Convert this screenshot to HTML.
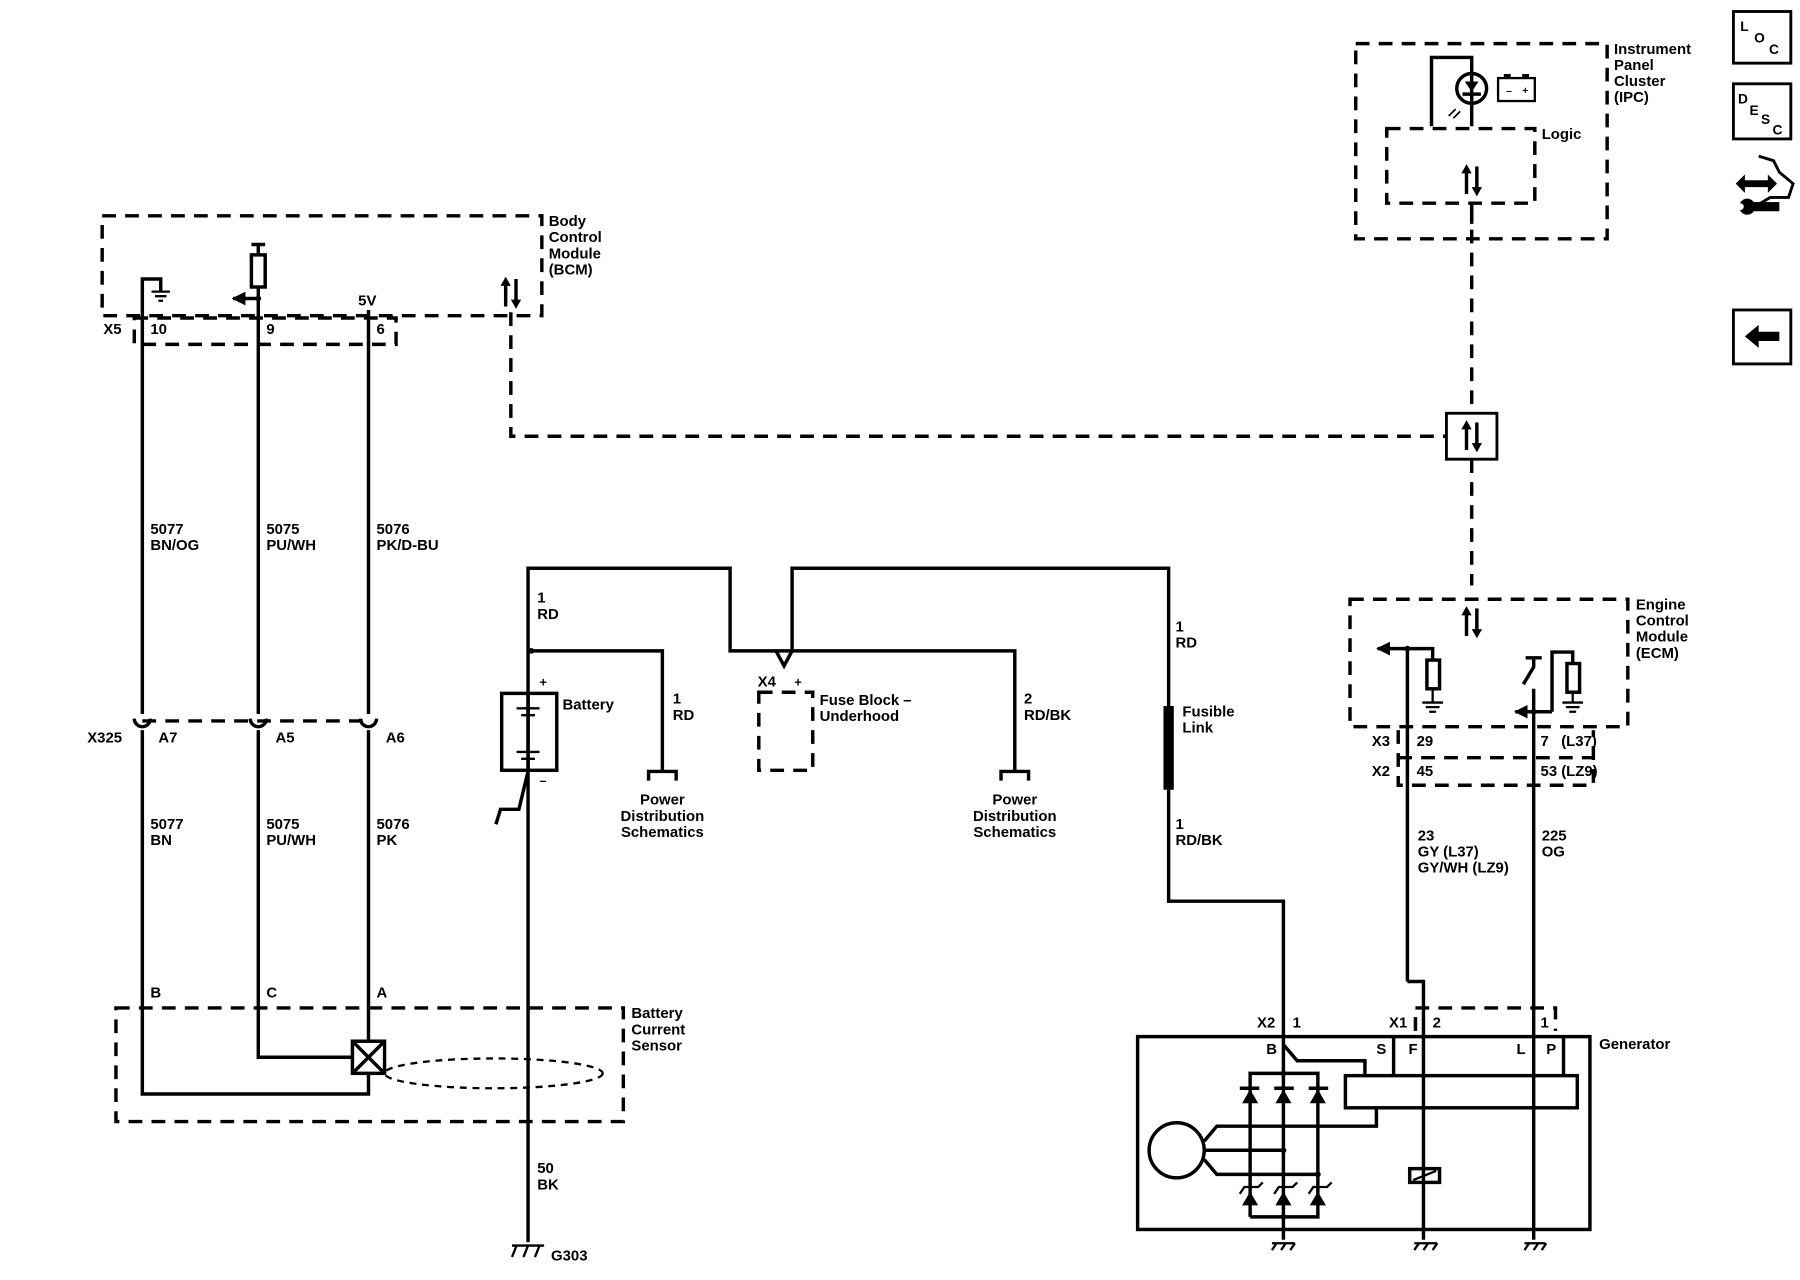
<!DOCTYPE html>
<html><head><meta charset="utf-8"><style>
html,body{margin:0;padding:0;background:#fff}
svg{display:block}
text{font-family:"Liberation Sans",sans-serif;font-weight:bold;font-size:13px;fill:#000}
</style></head><body>
<svg width="1800" height="1280" viewBox="0 0 1568 1115" xmlns="http://www.w3.org/2000/svg">
<defs>
<marker id="ah" viewBox="0 0 10 10" refX="9" refY="5" markerWidth="4" markerHeight="4" orient="auto"><path d="M0,0L10,5L0,10z" fill="#000"/></marker>
<g id="bd"><rect x="-6" y="-10" width="3" height="22"/><path d="M-9,-6L-4.5,-14L0,-6z"/><rect x="3" y="-12" width="3" height="22"/><path d="M0,6L4.5,14L9,6z"/></g>
</defs>
<g fill="none" stroke="#000" stroke-width="3">
<g stroke-dasharray="12,8">
<rect x="89" y="188" width="383" height="87"/>
<rect x="117" y="277" width="228" height="23"/>
<path d="M445,272V380H1260"/>
<path d="M1282,180V360M1282,400V510"/>
<path d="M124,628H321"/>
<rect x="101" y="878" width="442" height="99"/>
<rect x="661" y="603" width="47" height="68"/>
<rect x="1181" y="38" width="219" height="170"/>
<rect x="1208" y="112" width="129" height="65"/>
<rect x="1176" y="522" width="242" height="111"/>
<path d="M1218,636V684H1388V636M1218,660H1388"/>
<path d="M1233,898V878H1355V898"/>
</g>
<ellipse cx="430" cy="935" rx="95" ry="13" stroke-dasharray="6,5" stroke-width="2"/>
<path d="M124,622V243H140V254"/>
<path d="M132,254H148M135,258H145M138,262H142" stroke-width="2"/>
<path d="M225,622V250"/>
<path d="M225,260H203" marker-end="url(#ah)"/>
<rect x="219" y="222" width="12" height="28"/>
<path d="M225,222V213M219,213H231"/>
<path d="M321,622V270"/>
<path d="M117,626a7,7 0 0 0 14,0M218,626a7,7 0 0 0 14,0M314,626a7,7 0 0 0 14,0"/>
<path d="M124,636V953H321V935M225,636V921H307M321,636V907"/>
<rect x="307" y="907" width="28" height="28"/>
<path d="M307,907L335,935M335,907L307,935"/>
<path d="M460,1082V567V495H636V567H683"/>
<path d="M676,567L683,580L690,567V495H1018V615M1018,688V785H1118V1080"/>
<path d="M683,567H884V672"/>
<path d="M463,567H577V672"/>
<path d="M565,680V672H589V680M872,680V672H896V680"/>
<path d="M1018,615V688" stroke-width="9"/>
<rect x="437" y="604" width="48" height="67"/>
<path d="M460,604V672L452,705H436L432,718"/>
<path d="M450,617H470M454,623H466M450,655H470M454,661H466" stroke-width="2"/>
<path d="M446,1085H474M446,1095L450,1085M456,1095L460,1085M466,1095L470,1085" stroke-width="2"/>
<path d="M1247,110V50H1282V110"/>
<circle cx="1282" cy="77" r="13"/>
<path d="M1274,82H1290"/>
<path d="M1268,95l-6,6M1272,97l-6,6" stroke-width="1.5"/>
<rect x="1305" y="68" width="32" height="20" stroke-width="2"/>
<path d="M1310,66h6M1326,66h6" stroke-width="3"/>
<path d="M1282,177V195"/>
<path d="M1226,855V565H1248V575"/>
<path d="M1226,565H1200" marker-end="url(#ah)"/>
<rect x="1243" y="575" width="11" height="25"/>
<path d="M1248,600V612M1239,612H1257M1242,616H1254M1245,620H1251" stroke-width="2"/>
<path d="M1336,1080V600M1327,596L1336,581V573M1329,573H1343"/>
<path d="M1352,620H1320" marker-end="url(#ah)"/>
<path d="M1352,620V568H1370V578"/>
<rect x="1365" y="578" width="11" height="25"/>
<path d="M1370,603V612M1361,612H1379M1364,616H1376M1367,620H1373" stroke-width="2"/>
<path d="M1226,855H1240V1080"/>
<rect x="991" y="903" width="394" height="168"/>
<rect x="1172" y="937" width="202" height="28"/>
<path d="M1214,903V937M1362,903V937"/>
<path d="M1118,910L1130,924H1189V937"/>
<rect x="1228" y="1018" width="26" height="12"/>
<path d="M1231,1028L1251,1020" stroke-width="2"/>
<path d="M1089,1060V935H1148V1060H1089"/>
<path d="M1080,948H1097M1110,948H1127M1140,948H1157"/>
<circle cx="1025" cy="1002" r="24"/>
<path d="M1049,994L1060,981H1199V965M1049,1002H1118M1049,1010L1060,1023H1148"/>
<path d="M1080,1040L1084,1034H1096L1100,1030M1110,1040L1114,1034H1126L1130,1030M1140,1040L1144,1034H1156L1160,1030" stroke-width="2"/>
<path d="M1108,1083H1128M1232,1083H1252M1328,1083H1346" stroke-width="2"/>
<path d="M1108,1089L1112,1083M1116,1089L1120,1083M1124,1089L1128,1083M1232,1089L1236,1083M1240,1089L1244,1083M1248,1089L1252,1083M1328,1089L1332,1083M1336,1089L1340,1083M1343,1089L1347,1083" stroke-width="2"/>
<rect x="1260" y="360" width="44" height="40" stroke-width="2.5"/>
<rect x="1510" y="10" width="50" height="45" stroke-width="2.5"/>
<rect x="1510" y="73" width="50" height="48" stroke-width="2.5"/>
<rect x="1510" y="270" width="50" height="47" stroke-width="2.5"/>
<path d="M1532,136L1545,140L1550,150L1562,160L1558,172L1542,172L1532,178" stroke-width="2.5"/>
</g>
<g fill="#000">
<path d="M1276,71H1288L1282,80z"/>
<path d="M1082,961L1096,961L1089,949zM1111,961L1125,961L1118,949zM1141,961L1155,961L1148,949z"/>
<path d="M1082,1050L1096,1050L1089,1038zM1111,1050L1125,1050L1118,1038zM1141,1050L1155,1050L1148,1038z"/>
<circle cx="1118" cy="935" r="2.5"/><circle cx="1118" cy="1060" r="2.5"/><circle cx="1118" cy="1002" r="2.5"/><circle cx="1148" cy="1023" r="2.5"/>
<circle cx="225" cy="260" r="2.5"/><circle cx="463" cy="567" r="2.5"/><circle cx="1226" cy="565" r="2.5"/><circle cx="1336" cy="620" r="2.5"/>
<use href="#bd" x="445" y="255"/>
<use href="#bd" x="1282" y="380"/>
<use href="#bd" x="1282" y="157"/>
<use href="#bd" x="1282" y="542"/>
<path d="M1520,293L1532,283V289H1550V297H1532V303z"/>
<path d="M1512,160L1520,152V157H1540V152L1548,160L1540,168V163H1520V168z"/>
<rect x="1522" y="176" width="28" height="8"/><circle cx="1522" cy="180" r="7"/>
</g>
<circle cx="1516" cy="180" r="3" fill="#fff"/>
<text x="478" y="197">Body</text><text x="478" y="211">Control</text><text x="478" y="225">Module</text><text x="478" y="239">(BCM)</text>
<text x="90" y="291">X5</text><text x="131" y="291">10</text><text x="232" y="291">9</text><text x="328" y="291">6</text>
<text x="312" y="266">5V</text>
<text x="131" y="465">5077</text><text x="131" y="479">BN/OG</text>
<text x="232" y="465">5075</text><text x="232" y="479">PU/WH</text>
<text x="328" y="465">5076</text><text x="328" y="479">PK/D-BU</text>
<text x="76" y="647">X325</text><text x="138" y="647">A7</text><text x="240" y="647">A5</text><text x="336" y="647">A6</text>
<text x="131" y="722">5077</text><text x="131" y="736">BN</text>
<text x="232" y="722">5075</text><text x="232" y="736">PU/WH</text>
<text x="328" y="722">5076</text><text x="328" y="736">PK</text>
<text x="131" y="869">B</text><text x="232" y="869">C</text><text x="328" y="869">A</text>
<text x="550" y="887">Battery</text><text x="550" y="901">Current</text><text x="550" y="915">Sensor</text>
<text x="468" y="525">1</text><text x="468" y="539">RD</text>
<text x="470" y="598" style="font-size:11px">+</text><text x="470" y="684" style="font-size:11px">–</text>
<text x="490" y="618">Battery</text>
<text x="586" y="613">1</text><text x="586" y="627">RD</text>
<text x="577" y="701" text-anchor="middle">Power</text><text x="577" y="715" text-anchor="middle">Distribution</text><text x="577" y="729" text-anchor="middle">Schematics</text>
<text x="660" y="598">X4</text><text x="692" y="598" style="font-size:11px">+</text>
<text x="714" y="614">Fuse Block –</text><text x="714" y="628">Underhood</text>
<text x="892" y="613">2</text><text x="892" y="627">RD/BK</text>
<text x="884" y="701" text-anchor="middle">Power</text><text x="884" y="715" text-anchor="middle">Distribution</text><text x="884" y="729" text-anchor="middle">Schematics</text>
<text x="1024" y="550">1</text><text x="1024" y="564">RD</text>
<text x="1030" y="624">Fusible</text><text x="1030" y="638">Link</text>
<text x="1024" y="722">1</text><text x="1024" y="736">RD/BK</text>
<text x="468" y="1022">50</text><text x="468" y="1036">BK</text>
<text x="480" y="1098">G303</text>
<text x="1406" y="47">Instrument</text><text x="1406" y="61">Panel</text><text x="1406" y="75">Cluster</text><text x="1406" y="89">(IPC)</text>
<text x="1343" y="121">Logic</text>
<text x="1312" y="82" style="font-size:9px">–</text><text x="1326" y="82" style="font-size:9px">+</text>
<text x="1425" y="531">Engine</text><text x="1425" y="545">Control</text><text x="1425" y="559">Module</text><text x="1425" y="573">(ECM)</text>
<text x="1195" y="650">X3</text><text x="1234" y="650">29</text><text x="1342" y="650">7</text><text x="1360" y="650">(L37)</text>
<text x="1195" y="676">X2</text><text x="1234" y="676">45</text><text x="1342" y="676">53</text><text x="1360" y="676">(LZ9)</text>
<text x="1235" y="732">23</text><text x="1235" y="746">GY (L37)</text><text x="1235" y="760">GY/WH (LZ9)</text>
<text x="1343" y="732">225</text><text x="1343" y="746">OG</text>
<text x="1095" y="895">X2</text><text x="1126" y="895">1</text><text x="1210" y="895">X1</text><text x="1248" y="895">2</text><text x="1342" y="895">1</text>
<text x="1393" y="914">Generator</text>
<text x="1103" y="918">B</text><text x="1199" y="918">S</text><text x="1227" y="918">F</text><text x="1321" y="918">L</text><text x="1347" y="918">P</text>
<text x="1516" y="27" style="font-size:12px">L</text><text x="1528" y="37" style="font-size:12px">O</text><text x="1541" y="47" style="font-size:12px">C</text>
<text x="1514" y="90" style="font-size:12px">D</text><text x="1524" y="100" style="font-size:12px">E</text><text x="1534" y="108" style="font-size:12px">S</text><text x="1544" y="117" style="font-size:12px">C</text>
</svg>
</body></html>
